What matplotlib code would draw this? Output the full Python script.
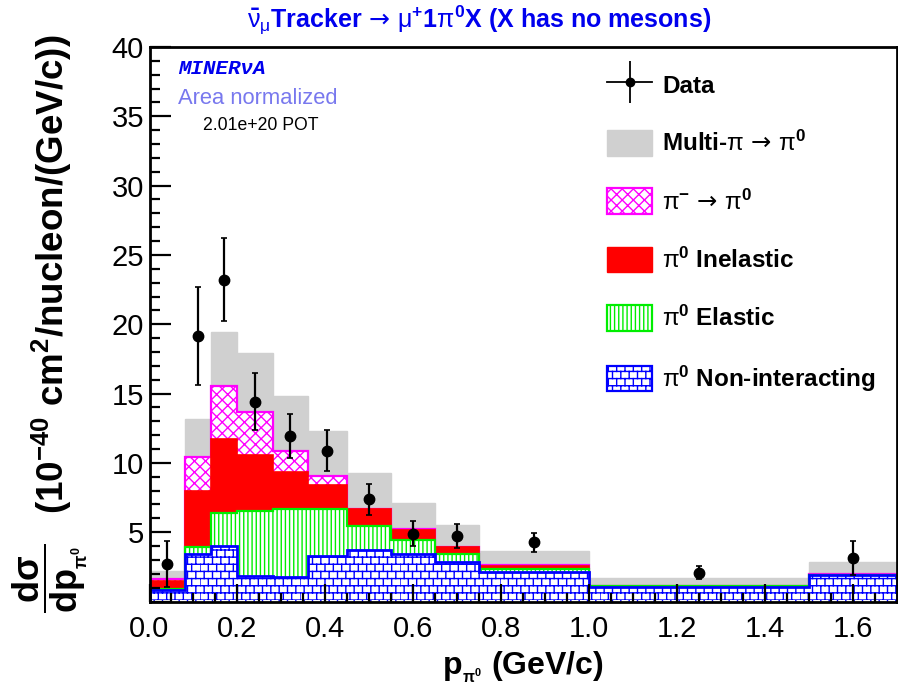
import warnings
import numpy as np
import matplotlib
matplotlib.use("Agg")
import matplotlib.pyplot as plt
import matplotlib.hatch as mhatch
from matplotlib.path import Path
from matplotlib.patches import Patch
from matplotlib.lines import Line2D
from matplotlib.legend_handler import HandlerTuple

warnings.filterwarnings("ignore")

plt.rcParams['font.family'] = ['Liberation Sans', 'DejaVu Sans']
plt.rcParams['mathtext.fontset'] = 'custom'
plt.rcParams['mathtext.rm'] = 'Liberation Sans'
plt.rcParams['mathtext.bf'] = 'Liberation Sans:bold'
plt.rcParams['mathtext.it'] = 'Liberation Sans:italic'
plt.rcParams['mathtext.sf'] = 'DejaVu Sans'
plt.rcParams['mathtext.default'] = 'bf'
plt.rcParams['hatch.linewidth'] = 1.0


class BrickHatch(mhatch.HatchPatternBase):
    """Brick-wall fill pattern, selected by the 'b' hatch character."""
    rows = 14
    cols = 12

    def __init__(self, hatch, density):
        self.on = hatch.count('b') > 0
        n = self.rows + self.rows * self.cols if self.on else 0
        self.num_vertices = 2 * n

    def set_vertices_and_codes(self, vertices, codes):
        h = 1.0 / self.rows
        w = 1.0 / self.cols
        k = 0
        for r in range(self.rows):
            y0 = r * h
            vertices[k] = (0.0, y0); vertices[k + 1] = (1.0, y0)
            k += 2
            off = 0.5 * w * (r % 2)
            for c in range(self.cols):
                x = (c * w + off) % 1.0
                vertices[k] = (x, y0); vertices[k + 1] = (x, y0 + h)
                k += 2
        codes[0::2] = Path.MOVETO
        codes[1::2] = Path.LINETO


mhatch._hatch_types.append(BrickHatch)

# pi0 momentum bin edges (GeV/c)
bin_edges = [0.0, 0.08, 0.14, 0.20, 0.28, 0.36, 0.45, 0.55, 0.65, 0.75, 1.0, 1.5, 1.7]

# Simulated components (10^-40 cm^2/nucleon/(GeV/c)), stacked bottom to top
non_interacting = [0.85, 3.46, 3.99, 1.83, 1.75, 3.27, 3.75, 3.46, 2.86, 2.14, 1.05, 1.90]
elastic         = [0.03, 0.44, 2.36, 4.69, 4.93, 3.38, 1.71, 0.96, 0.60, 0.19, 0.05, 0.02]
inelastic       = [0.61, 4.08, 5.36, 4.04, 2.67, 1.76, 1.18, 0.72, 0.44, 0.24, 0.02, 0.02]
piminus_to_pi0  = [0.10, 2.45, 3.85, 3.10, 1.49, 0.62, 0.06, 0.06, 0.05, 0.05, 0.01, 0.01]
multi_pi        = [0.60, 2.75, 3.87, 4.23, 4.00, 3.25, 2.60, 1.92, 1.55, 1.03, 0.55, 0.88]

# Measured data
data_x   = [0.04, 0.11, 0.17, 0.24, 0.32, 0.405, 0.50, 0.60, 0.70, 0.875, 1.25, 1.60]
data_y   = [2.69, 19.15, 23.2, 14.4, 11.93, 10.87, 7.36, 4.90, 4.71, 4.26, 2.09, 3.17]
data_err = [1.68, 3.55, 3.00, 2.05, 1.60, 1.47, 1.15, 0.90, 0.85, 0.70, 0.48, 1.23]

x_ticks = [0.0, 0.2, 0.4, 0.6, 0.8, 1.0, 1.2, 1.4, 1.6]
y_ticks = [0, 5, 10, 15, 20, 25, 30, 35, 40]

fig = plt.figure(figsize=(8.98, 6.96), dpi=100)
ax = fig.add_axes([149.5 / 898, 1 - 601.5 / 696, (896.5 - 149.5) / 898, (601.5 - 47) / 696])

edges = np.array(bin_edges)
layers = [non_interacting, elastic, inelastic, piminus_to_pi0, multi_pi]
cum = np.cumsum(np.array(layers), axis=0)

BLUE, GREEN, RED, MAGENTA, GREY = '#0000ff', '#00ee00', '#ff0000', '#ff00ff', '#d0d0d0'
styles = [
    dict(facecolor='white', edgecolor=BLUE, hatch='b', lw=2.0),        # non-interacting
    dict(facecolor='white', edgecolor=GREEN, hatch='||||', lw=1.6),    # elastic
    dict(facecolor=RED, edgecolor=RED, hatch=None, lw=1.2),            # inelastic
    dict(facecolor='white', edgecolor=MAGENTA, hatch='xxx', lw=1.6),   # pi- -> pi0
    dict(facecolor=GREY, edgecolor=GREY, hatch=None, lw=1.0),          # multi-pi
]

# Stack drawn as cumulative totals from the top down, each filled from zero
for i in range(len(layers) - 1, -1, -1):
    st = styles[i]
    ax.stairs(cum[i], edges, baseline=0, fill=True, facecolor=st['facecolor'],
              edgecolor=st['edgecolor'], hatch=st['hatch'], linewidth=st['lw'],
              zorder=2 + (4 - i) * 0.1)

ax.errorbar(data_x, data_y, yerr=data_err, fmt='o', color='black', ms=7.5,
            elinewidth=1.6, capsize=2.5, capthick=1.2, zorder=5)

ax.set_xlim(0, 1.7)
ax.set_ylim(0, 40)
ax.set_xticks(x_ticks)
ax.set_xticklabels([f"{v:.1f}" for v in x_ticks])
ax.set_xticks(np.arange(0, 1.7, 0.05), minor=True)
ax.set_yticks(y_ticks)
ax.set_yticklabels(['' if v == 0 else str(v) for v in y_ticks])
ax.set_yticks(np.arange(0, 41, 1), minor=True)
ax.tick_params(axis='both', which='both', direction='in', width=1.6, top=False, right=False,
               labelsize=21)
ax.tick_params(axis='y', which='major', length=15, pad=4)
ax.tick_params(axis='y', which='minor', length=7.5)
ax.tick_params(axis='x', which='major', length=13, pad=10)
ax.tick_params(axis='x', which='minor', length=6.5)
for sp in ax.spines.values():
    sp.set_linewidth(2.0)
    sp.set_zorder(10)
ax.set_axisbelow(False)

ax.set_xlabel(r'p$_{_{\pi^0}}$ (GeV/c)', fontsize=23, fontweight='bold', labelpad=4)

# y-axis title: derivative fraction plus units
fig.text(50 / 898, 1 - 578 / 696, r'$\dfrac{d\sigma}{dp_{_{\pi^0}}}$', rotation=90,
         ha='center', va='center', fontsize=26, fontweight='bold')
fig.text(52 / 898, 1 - 274 / 696, r'(10$^{-40}$ cm$^{2}$/nucleon/(GeV/c))', rotation=90,
         ha='center', va='center', fontsize=26.5, fontweight='bold')

ARROW = r'$\,\mathsf{\rightarrow}\,$'
fig.text(479 / 898, 1 - 20 / 696,
         r'$\bar{\mathrm{\nu}}_{\mathrm{\mu}}$Tracker' + ARROW +
         r'$\mathrm{\mu}^{+}$1$\mathrm{\pi}^{0}$X (X has no mesons)',
         ha='center', va='center', fontsize=18, fontweight='bold', color='#0000ee')

ax.text(0.038, 0.962, 'MINER\u03bdA', transform=ax.transAxes, ha='left', va='center',
        fontsize=15, fontweight='bold', fontstyle='italic', color='#0000ee',
        family=['Liberation Mono', 'DejaVu Sans Mono'])
ax.text(0.038, 0.908, 'Area normalized', transform=ax.transAxes, ha='left', va='center',
        fontsize=15.8, color='#7878ee')
ax.text(0.071, 0.859, '2.01e+20 POT', transform=ax.transAxes, ha='left', va='center',
        fontsize=12.7, color='black')

handles = [
    (Line2D([], [], color='black', marker='o', ms=6, lw=1.3),
     Line2D([], [], color='black', marker='|', ms=30, mew=1.3, ls='none')),
    Patch(facecolor=GREY, edgecolor=GREY),
    Patch(facecolor='white', edgecolor=MAGENTA, hatch='xxx', lw=1.6),
    Patch(facecolor=RED, edgecolor=RED),
    Patch(facecolor='white', edgecolor=GREEN, hatch='||||', lw=1.6),
    Patch(facecolor='white', edgecolor=BLUE, hatch='b', lw=1.6),
]
labels = ['Data',
          r'Multi-$\mathrm{\pi}$' + ARROW + r'$\mathrm{\pi}^{0}$',
          r'$\mathrm{\pi}^{-}$' + ARROW + r'$\mathrm{\pi}^{0}$',
          r'$\mathrm{\pi}^{0}$ Inelastic',
          r'$\mathrm{\pi}^{0}$ Elastic',
          r'$\mathrm{\pi}^{0}$ Non-interacting']
leg = ax.legend(handles, labels, loc='upper left', bbox_to_anchor=(0.6, 0.973),
                frameon=False, prop={'size': 17.5, 'weight': 'bold'},
                handlelength=1.85, handleheight=1.25, labelspacing=1.33, handletextpad=0.4,
                borderaxespad=0, handler_map={tuple: HandlerTuple(ndivide=1)})
leg.set_zorder(20)

fig.savefig('out.png', dpi=100)
